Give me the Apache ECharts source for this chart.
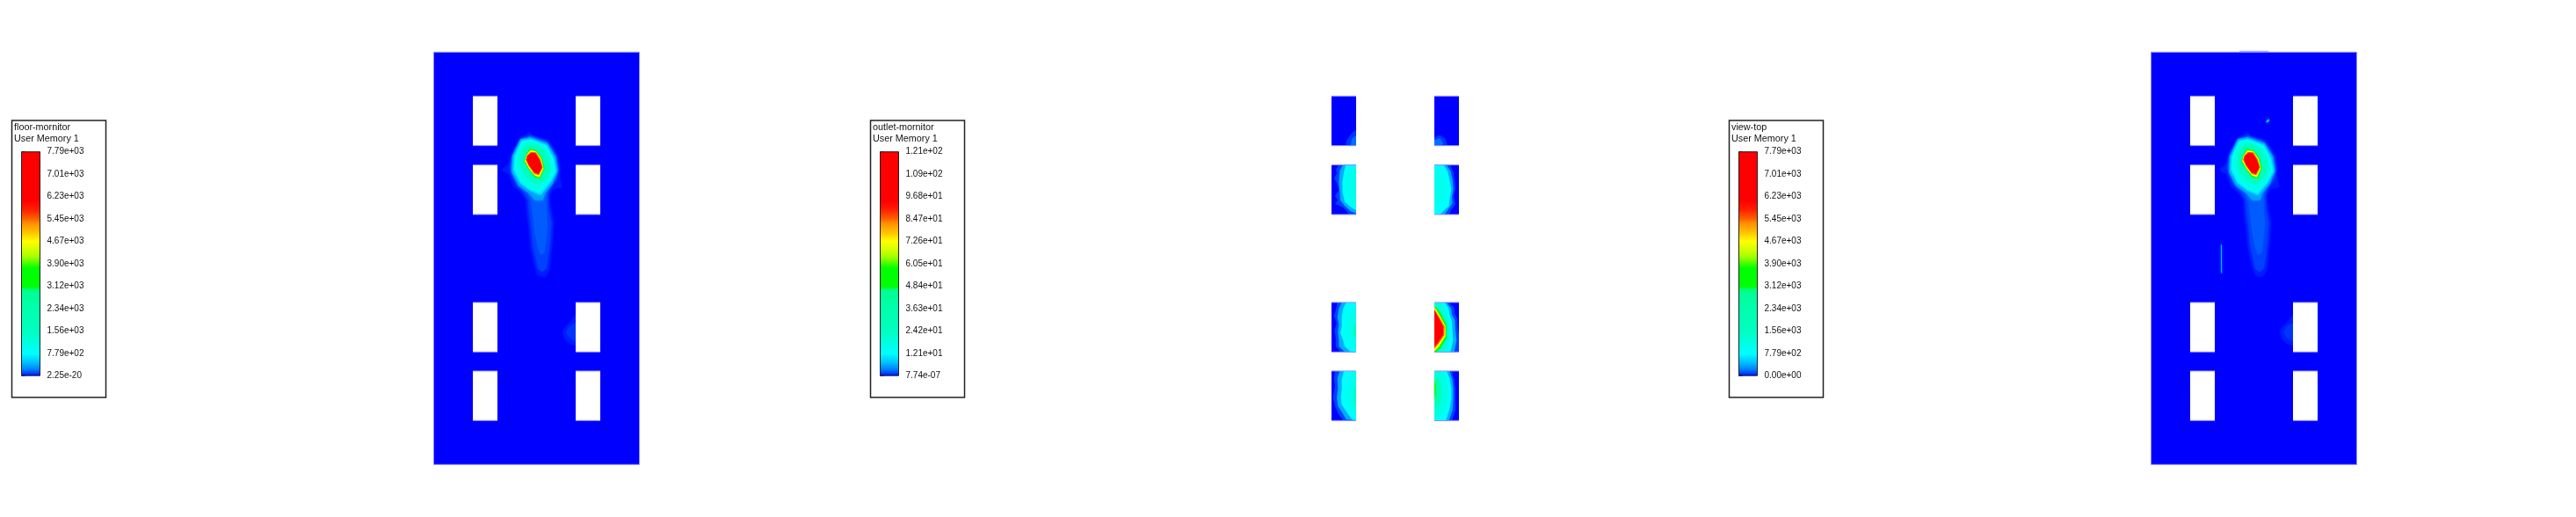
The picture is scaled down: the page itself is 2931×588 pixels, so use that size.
<!DOCTYPE html>
<html><head><meta charset="utf-8">
<script src="https://cdn.jsdelivr.net/npm/echarts@6/dist/echarts.min.js"></script>
<style>html,body{margin:0;padding:0;background:#fff}#c{width:2931px;height:588px}</style>
</head><body><div id="c"></div>
<script>
// ---- legend tick labels (bottom to top) ----
const floorTicks = ['2.25e-20','7.79e+02','1.56e+03','2.34e+03','3.12e+03','3.90e+03','4.67e+03','5.45e+03','6.23e+03','7.01e+03','7.79e+03'];
const outletTicks = ['7.74e-07','1.21e+01','2.42e+01','3.63e+01','4.84e+01','6.05e+01','7.26e+01','8.47e+01','9.68e+01','1.09e+02','1.21e+02'];
const viewTicks = ['0.00e+00','7.79e+02','1.56e+03','2.34e+03','3.12e+03','3.90e+03','4.67e+03','5.45e+03','6.23e+03','7.01e+03','7.79e+03'];
const legendTitles = ['floor-mornitor','outlet-mornitor','view-top'];
const subTitle = 'User Memory 1';

// ---- colour scale: [level on 0..10 legend scale, colour] ----
const colorStops = [[0,'#0000ff'],[0.12,'#0040ff'],[0.3,'#0080ff'],[0.6,'#00c0ff'],[1,'#00ffff'],[1.5,'#00ffe0'],[2,'#00ffc0'],[3.2,'#00ffa8'],[3.8,'#00ff90'],[4,'#00ff00'],[4.8,'#00ff00'],[5.1,'#60ff00'],[5.3,'#a0ff00'],[5.6,'#d0ff00'],[6,'#ffff00'],[6.4,'#ffc000'],[6.8,'#ff9000'],[7,'#ff6000'],[7.4,'#ff2000'],[7.8,'#ff0000'],[10,'#ff0000']];

// ---- geometry of the plate, in plate units ----
const plateSize = [702,1407];
const windowCols = [133.5,484.5];
const windowRows = [150,385,854,1088];
const windowSize = [84,169];

// ---- hot plume on the floor: contour bands ----
const plumeFaint = [[325,272],[340,286],[370,294],[392,302],[410,327],[426,357],[432,397],[430,432],[438,460],[408,467],[395,487],[400,532],[410,582],[406,642],[400,692],[395,742],[380,767],[355,762],[340,712],[330,662],[325,602],[318,552],[315,502],[298,480],[272,457],[258,417],[232,402],[255,384],[262,360],[272,332],[288,310],[305,294]];
const plumeOuter = [[330,284],[355,294],[380,302],[402,327],[418,357],[425,397],[422,432],[400,462],[390,487],[392,532],[402,582],[398,642],[392,692],[385,737],[370,750],[355,737],[348,702],[338,662],[333,602],[326,552],[322,502],[302,472],[280,450],[265,412],[260,390],[268,362],[278,334],[292,314],[310,300]];
const plumeTail = [[302,304],[330,297],[380,310],[408,352],[418,402],[405,442],[385,477],[384,532],[388,582],[384,632],[378,682],[365,692],[355,662],[345,612],[338,552],[332,507],[320,477],[290,452],[272,412],[268,382],[280,342]];
const plumeFringe = [[296,296],[330,290],[388,310],[416,355],[424,405],[406,448],[380,482],[372,505],[345,505],[328,484],[290,456],[266,410],[268,355]];
const plumeCyan = [[300,302],[330,297],[385,317],[410,362],[418,407],[400,442],[365,487],[330,472],[295,447],[272,402],[275,357]];
const plumeCyan2 = [[302,306],[332,300],[384,321],[406,363],[414,405],[396,440],[362,478],[329,466],[298,441],[277,398],[279,356]];
const plumeSpring = [[305,310],[335,303],[382,325],[402,365],[410,405],[392,438],[360,470],[328,460],[302,435],[282,395],[284,355],[292,330]];
const plumeSpring2 = [[315,318],[340,312],[375,333],[393,370],[398,402],[384,430],[358,450],[332,440],[310,418],[296,385],[296,355],[302,335]];
const plumeGreen = [[328,330],[350,334],[370,360],[379,397],[363,432],[345,427],[325,402],[308,374],[314,350]];
const plumeYellow = [[330,334],[349,338],[367,363],[375,397],[361,427],[345,421],[326,398],[311,372],[316,352]];
const plumeOrange = [[331,340],[349,342],[364,365],[372,394],[359,420],[344,415],[325,390],[314,368],[318,353]];
const plumeRed = [[333,343],[347,345],[361,367],[370,392],[358,416],[343,411],[325,385],[317,367],[320,354]];
const spotOuter = [[484.5,897],[462,925],[440,950],[445,975],[465,995],[484.5,1000]];
const spotInner = [[484.5,925],[465,935],[452,955],[465,975],[484.5,985]];
const floorBands = [[0.05,plumeFaint],[0.12,plumeOuter],[0.2,plumeTail],[0.45,plumeFringe],[0.85,plumeCyan],[1.1,plumeCyan2],[1.4,plumeSpring],[2.2,plumeSpring2],[4.4,plumeGreen],[6,plumeYellow],[7,plumeOrange],[8,plumeRed],[0.05,spotOuter],[0.1,spotInner]];

// ---- view-top only artefacts ----
const streak = [[239,657],[241,657],[242,754],[240,754]];
const speck = [[392,238],[402,228],[403,234],[396,240]];
const viewExtraBands = [[1,streak],[1,speck]];

// ---- outlet tiles: contour bands, local to each tile ----
const t1a = [[84,115],[70,125],[52,150],[48,165],[55,169],[84,169]];
const t1b = [[84,135],[70,145],[65,169],[84,169]];
const t2a = [[0,140],[20,133],[38,145],[45,169],[0,169]];
const t2b = [[0,150],[20,143],[30,160],[25,169],[0,169]];
const t3a = [[25,0],[15,15],[18,30],[8,45],[18,60],[25,85],[12,105],[22,120],[12,132],[40,145],[60,169],[84,169],[84,0]];
const t3b = [[38,0],[28,20],[25,60],[28,90],[30,120],[45,140],[65,158],[84,165],[84,0]];
const t3c = [[48,0],[42,25],[37,60],[38,95],[45,125],[60,140],[84,155],[84,0]];
const t3d = [[58,10],[55,40],[50,70],[55,100],[65,120],[84,135],[84,8]];
const t4a = [[0,0],[55,0],[65,25],[70,55],[72,82],[66,105],[72,135],[60,150],[50,169],[0,169]];
const t4b = [[0,0],[42,0],[55,20],[62,50],[65,82],[60,110],[62,130],[45,155],[35,169],[0,169]];
const t4c = [[0,0],[32,0],[45,20],[52,50],[58,82],[52,120],[50,140],[28,160],[20,169],[0,169]];
const t4d = [[0,8],[15,12],[30,30],[38,60],[40,90],[32,120],[10,140],[0,145]];
const t5a = [[20,0],[15,25],[8,45],[18,70],[10,95],[15,125],[15,150],[30,169],[84,169],[84,0]];
const t5b = [[35,0],[25,20],[20,50],[25,75],[22,100],[25,130],[25,150],[45,169],[84,169],[84,0]];
const t5c = [[50,0],[40,20],[35,50],[35,80],[30,105],[40,130],[45,150],[65,169],[84,169],[84,0]];
const t5d = [[72,15],[60,40],[50,70],[45,100],[58,125],[72,150],[84,155],[84,10]];
const t5e = [[84,65],[75,85],[72,105],[84,125]];
const t6a = [[0,0],[50,0],[68,18],[70,38],[78,55],[80,85],[84,110],[84,169],[0,169]];
const t6b = [[0,0],[42,0],[58,20],[60,40],[70,60],[72,95],[76,130],[68,169],[0,169]];
const t6c = [[0,0],[35,0],[48,18],[52,40],[60,65],[62,100],[64,130],[55,169],[0,169]];
const t6d = [[0,0],[22,0],[38,25],[48,60],[52,100],[50,130],[42,160],[35,169],[0,169]];
const t6e = [[0,14],[8,18],[25,42],[42,75],[42,120],[22,155],[8,169],[0,169]];
const t6f = [[0,18],[5,22],[22,50],[38,80],[38,115],[18,148],[2,165],[0,165]];
const t6g = [[0,22],[18,52],[35,82],[34,112],[14,142],[0,158]];
const t6h = [[0,26],[14,52],[30,82],[30,110],[12,138],[0,150]];
const t7a = [[12,0],[8,25],[12,50],[5,90],[12,120],[25,150],[40,169],[84,169],[84,0]];
const t7b = [[28,0],[20,25],[22,60],[18,90],[22,120],[38,145],[50,165],[84,169],[84,0]];
const t7c = [[42,0],[35,30],[35,60],[32,90],[35,115],[55,145],[70,165],[84,169],[84,0]];
const t7d = [[68,5],[60,30],[50,65],[50,100],[65,130],[84,150],[84,0]];
const t7e = [[84,50],[75,75],[78,105],[84,120]];
const t8a = [[0,0],[60,0],[68,30],[72,60],[72,110],[72,135],[60,169],[0,169]];
const t8b = [[0,0],[52,0],[62,30],[65,60],[65,100],[62,135],[50,169],[0,169]];
const t8c = [[0,0],[42,0],[52,25],[58,60],[58,95],[52,130],[40,169],[0,169]];
const t8d = [[0,0],[30,0],[42,25],[46,60],[45,100],[38,130],[15,160],[0,165]];
const t8e = [[0,15],[15,25],[22,50],[25,85],[18,110],[0,130]];
const t8f = [[0,28],[5,45],[6,70],[4,85],[0,95]];
// [col,row,[[level,band],...]]
const outletTiles = [
 [0,0,[[0.1,t1a],[0.25,t1b]]],
 [1,0,[[0.1,t2a],[0.25,t2b]]],
 [0,1,[[0.12,t3a],[0.5,t3b],[1,t3c],[1.3,t3d]]],
 [1,1,[[0.12,t4a],[0.5,t4b],[1,t4c],[1.3,t4d]]],
 [0,2,[[0.12,t5a],[0.5,t5b],[1,t5c],[1.3,t5d],[2,t5e]]],
 [1,2,[[0.12,t6a],[0.5,t6b],[1,t6c],[1.6,t6d],[4.4,t6e],[6,t6f],[7,t6g],[8,t6h]]],
 [0,3,[[0.12,t7a],[0.5,t7b],[1,t7c],[1.3,t7d],[2,t7e]]],
 [1,3,[[0.12,t8a],[0.5,t8b],[1,t8c],[1.5,t8d],[2.5,t8e],[4.4,t8f]]]
];

// ---- layout ----
const plateLeft = [493.5,1470.5,2447.5];
const plateTop = 59.3, plateW = 234, plateH = 469;
const boxLeft = [13.5,990.5,1967.5];
const boxTop = 137, boxW = 107, boxH = 315;
const barTop = 172.7, barH = 254.5, barW = 21, barInset = 11;
const EDGE = '#8f8fff';

function levelColor(v){
  for(let i=1;i<colorStops.length;i++){
    if(v<=colorStops[i][0]){
      const a=colorStops[i-1],b=colorStops[i];
      return echarts.color.lerp((v-a[0])/(b[0]-a[0]),[a[1],b[1]]);
    }
  }
  return colorStops[colorStops.length-1][1];
}
function polyOf(api,pts,dx,dy,fill,blur){
  const style={fill:fill};
  if(blur){style.shadowBlur=blur;style.shadowColor=fill;}
  return {type:'polygon',shape:{points:pts.map(p=>api.coord([p[0]+dx,p[1]+dy]))},style:style};
}
function rectOf(api,x0,y0,x1,y1,style){
  const a=api.coord([x0,y0]),b=api.coord([x1,y1]);
  return {type:'rect',shape:{x:a[0],y:a[1],width:b[0]-a[0],height:b[1]-a[1]},style:style};
}
function lineOf(api,x0,x1,y){
  const a=api.coord([x0,y]),b=api.coord([x1,y]);
  return {type:'line',shape:{x1:a[0],y1:a[1],x2:b[0],y2:b[1]},style:{stroke:EDGE,lineWidth:1,fill:null}};
}
function windowLines(api){
  const out=[];
  windowCols.forEach(cx=>windowRows.forEach(ry=>{
    out.push(lineOf(api,cx,cx+windowSize[0],ry));
    out.push(lineOf(api,cx,cx+windowSize[0],ry+windowSize[1]));
  }));
  return out;
}
function plateSeries(idx,bands,bump){
  return {type:'custom',xAxisIndex:idx,yAxisIndex:idx,silent:true,clip:false,animation:false,
    data:[[0,0]],
    renderItem:(params,api)=>{
      const kids=[rectOf(api,0,0,plateSize[0],plateSize[1],{fill:'#0000ff',stroke:EDGE,lineWidth:1})];
      if(bump) kids.push(lineOf(api,302,401,-3));
      bands.forEach(b=>kids.push(polyOf(api,b[1],0,0,levelColor(b[0]),b[0]<4?3:0)));
      windowCols.forEach(cx=>windowRows.forEach(ry=>{
        kids.push(rectOf(api,cx,ry,cx+windowSize[0],ry+windowSize[1],{fill:'#fff'}));
      }));
      return {type:'group',children:kids.concat(windowLines(api))};
    }};
}
function tileSeries(idx){
  return {type:'custom',xAxisIndex:idx,yAxisIndex:idx,silent:true,clip:false,animation:false,
    data:outletTiles.map((t,i)=>[i,0]),
    renderItem:(params,api)=>{
      const t=outletTiles[params.dataIndex];
      const ox=windowCols[t[0]],oy=windowRows[t[1]];
      const kids=[rectOf(api,ox,oy,ox+windowSize[0],oy+windowSize[1],{fill:'#0000ff'})];
      t[2].forEach(b=>kids.push(polyOf(api,b[1],ox,oy,levelColor(b[0]))));
      kids.push(lineOf(api,ox,ox+windowSize[0],oy));
      kids.push(lineOf(api,ox,ox+windowSize[0],oy+windowSize[1]));
      return {type:'group',children:kids};
    }};
}
function barSeries(idx){
  return {type:'custom',xAxisIndex:idx,yAxisIndex:idx,silent:true,animation:false,clip:false,
    data:[[0,10]],
    renderItem:(params,api)=>{
      const stops=colorStops.map(s=>({offset:s[0]/10,color:s[1]}));
      return rectOf(api,0,api.value(1),1,api.value(0),{
        fill:new echarts.graphic.LinearGradient(0,1,0,0,stops),stroke:'#222',lineWidth:1});
    }};
}

const grids=[],xAxes=[],yAxes=[],series=[],titles=[],boxes=[];
const allTicks=[floorTicks,outletTicks,viewTicks];
plateLeft.forEach((l,i)=>{
  grids.push({left:l,top:plateTop,width:plateW,height:plateH});
  xAxes.push({type:'value',gridIndex:i,min:0,max:plateSize[0],show:false});
  yAxes.push({type:'value',gridIndex:i,min:0,max:plateSize[1],inverse:true,show:false});
});
series.push(plateSeries(0,floorBands,false));
series.push(tileSeries(1));
series.push(plateSeries(2,floorBands.concat(viewExtraBands),true));
boxLeft.forEach((l,i)=>{
  const g=3+i;
  grids.push({left:l+barInset,top:barTop,width:barW,height:barH});
  xAxes.push({type:'value',gridIndex:g,min:0,max:1,show:false});
  yAxes.push({type:'value',gridIndex:g,min:0,max:10,interval:1,position:'right',
    axisLine:{show:false},splitLine:{show:false},
    axisTick:{show:true,length:4,lineStyle:{color:'#333',width:1}},
    axisLabel:{margin:8,color:'#111',fontFamily:'Liberation Sans',fontSize:10,
      formatter:v=>allTicks[i][Math.round(v)]}});
  series.push(barSeries(g));
  titles.push({text:legendTitles[i]+'\n'+subTitle,left:l+2.5,top:boxTop+1,padding:0,
    textStyle:{color:'#111',fontFamily:'Liberation Sans',fontSize:10.8,fontWeight:'normal',lineHeight:13.6}});
  boxes.push({type:'rect',shape:{x:l,y:boxTop,width:boxW,height:boxH},style:{fill:'#fff',stroke:'#222',lineWidth:1.5},z:-10});
});

const chart=echarts.init(document.getElementById('c'),null,{renderer:'canvas'});
chart.setOption({animation:false,backgroundColor:'#fff',title:titles,grid:grids,xAxis:xAxes,yAxis:yAxes,series:series,graphic:boxes});
</script>
</body></html>
